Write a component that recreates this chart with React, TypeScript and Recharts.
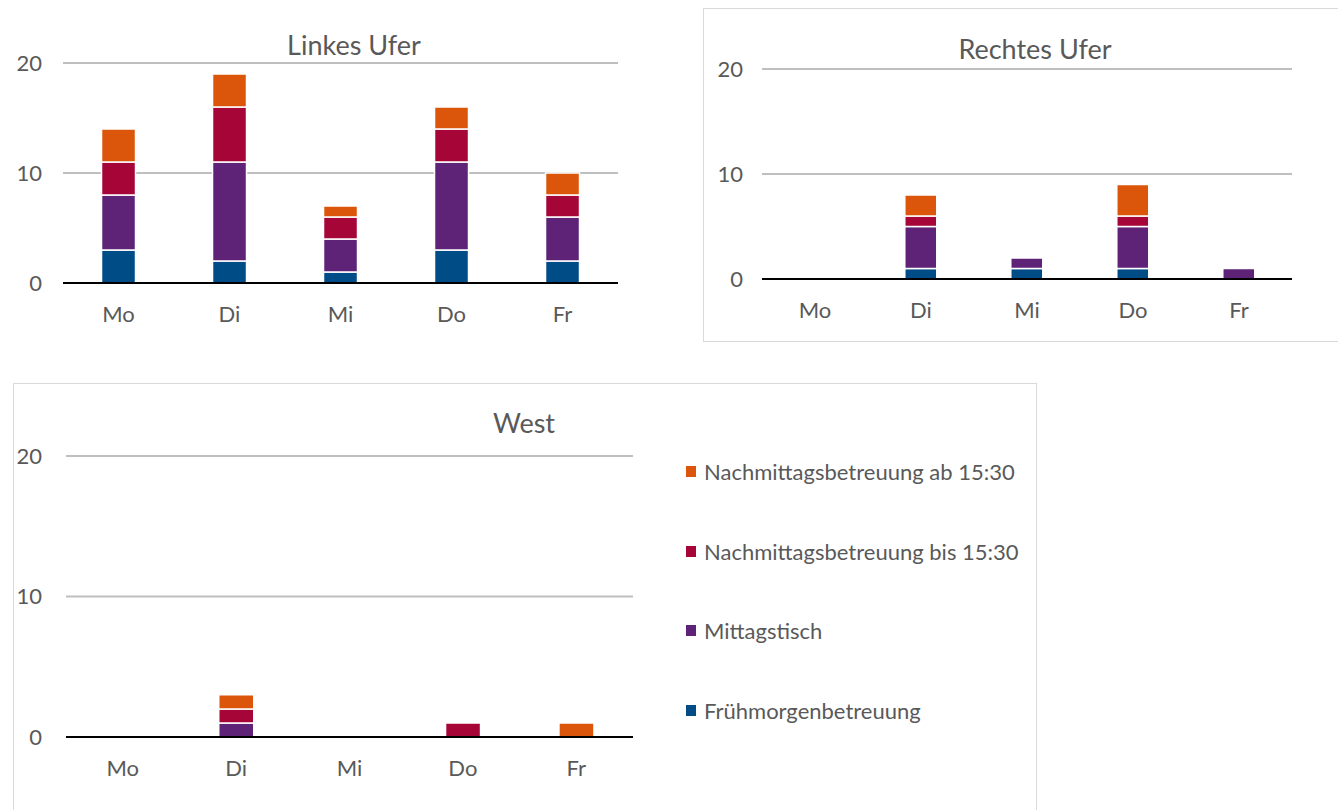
import { Bar, BarChart, CartesianGrid, Legend, XAxis, YAxis } from 'recharts'

const days = ['Mo', 'Di', 'Mi', 'Do', 'Fr']
const yTicks = [0, 10, 20]

const seriesKeys = ['frueh', 'mittag', 'bis', 'ab']
const seriesNames = ['Frühmorgenbetreuung', 'Mittagstisch', 'Nachmittagsbetreuung bis 15:30', 'Nachmittagsbetreuung ab 15:30']
const seriesColors = ['#004C87', '#5E2277', '#A50537', '#DB560B']

// Linkes Ufer
const linksFrueh = [3, 2, 1, 3, 2]
const linksMittag = [5, 9, 3, 8, 4]
const linksBis = [3, 5, 2, 3, 2]
const linksAb = [3, 3, 1, 2, 2]

// Rechtes Ufer
const rechtsFrueh = [0, 1, 1, 1, 0]
const rechtsMittag = [0, 4, 1, 4, 1]
const rechtsBis = [0, 1, 0, 1, 0]
const rechtsAb = [0, 2, 0, 3, 0]

// West
const westFrueh = [0, 0, 0, 0, 0]
const westMittag = [0, 1, 0, 0, 0]
const westBis = [0, 1, 0, 1, 0]
const westAb = [0, 1, 0, 0, 1]

const FONT = 'Lato, "DejaVu Sans", sans-serif'
const TEXT = '#595959'

function buildRows(frueh: number[], mittag: number[], bis: number[], ab: number[]) {
  return days.map((day, i) => ({ day, frueh: frueh[i], mittag: mittag[i], bis: bis[i], ab: ab[i] }))
}

const linksData = buildRows(linksFrueh, linksMittag, linksBis, linksAb)
const rechtsData = buildRows(rechtsFrueh, rechtsMittag, rechtsBis, rechtsAb)
const westData = buildRows(westFrueh, westMittag, westBis, westAb)

// legend lists the top segment first, like Excel does for stacked columns
function renderLegend(props: any) {
  const items = [...(props.payload || [])].sort(
    (a: any, b: any) => seriesNames.indexOf(b.value) - seriesNames.indexOf(a.value),
  )
  return (
    <div style={{ fontFamily: FONT, fontSize: 22, color: TEXT }}>
      {items.map((item: any) => (
        <div key={item.value} style={{ height: 79.5, display: 'flex', alignItems: 'center', whiteSpace: 'nowrap' }}>
          <span style={{ display: 'inline-block', width: 10, height: 11, background: item.color, marginRight: 8 }} />
          {item.value}
        </div>
      ))}
    </div>
  )
}

interface PanelProps {
  x: number
  y: number
  width: number
  height: number
  margin: { top: number; right: number; bottom: number; left: number }
  yAxisWidth: number
  yTickMargin: number
  data: ReturnType<typeof buildRows>
  showLegend?: boolean
}

function Panel({ x, y, width, height, margin, yAxisWidth, yTickMargin, data, showLegend }: PanelProps) {
  const tick = { fill: TEXT, fontSize: 22, fontFamily: FONT }
  return (
    <div style={{ position: 'absolute', left: x, top: y }}>
      <BarChart width={width} height={height} data={data} margin={margin} barCategoryGap="34.7%">
        <CartesianGrid vertical={false} stroke="#bfbfbf" strokeWidth={2} />
        <YAxis
          domain={[0, 20]}
          ticks={yTicks}
          width={yAxisWidth}
          axisLine={false}
          tickLine={false}
          tickSize={0}
          tickMargin={yTickMargin}
          tick={tick}
        />
        <XAxis
          dataKey="day"
          height={40}
          axisLine={{ stroke: '#000', strokeWidth: 2 }}
          tickLine={false}
          tickSize={0}
          tickMargin={23}
          tick={tick}
        />
        {seriesKeys.map((key, i) => (
          <Bar
            key={key}
            dataKey={key}
            name={seriesNames[i]}
            stackId="a"
            fill={seriesColors[i]}
            stroke="#fff"
            strokeWidth={1.5}
            isAnimationActive={false}
          />
        ))}
        {showLegend && (
          <Legend
            layout="vertical"
            align="center"
            verticalAlign="middle"
            wrapperStyle={{ left: 673, top: 49, width: 340 }}
            content={renderLegend}
          />
        )}
      </BarChart>
    </div>
  )
}

function Title({ text, x, y }: { text: string; x: number; y: number }) {
  return (
    <div
      style={{
        position: 'absolute',
        left: x,
        top: y,
        transform: 'translate(-50%, -50%)',
        fontFamily: FONT,
        fontSize: 27,
        color: TEXT,
        whiteSpace: 'nowrap',
      }}
    >
      {text}
    </div>
  )
}

export default function App() {
  return (
    <div style={{ position: 'absolute', left: 0, top: 0, width: 1338, height: 810, overflow: 'hidden', background: '#fff' }}>
      <div style={{ position: 'absolute', left: 703, top: 8, width: 700, height: 334, border: '1.5px solid #d9d9d9', boxSizing: 'border-box' }} />
      <div style={{ position: 'absolute', left: 13, top: 383, width: 1024, height: 500, border: '1.5px solid #d9d9d9', boxSizing: 'border-box' }} />

      <Panel
        x={0}
        y={0}
        width={700}
        height={345}
        margin={{ top: 63, right: 82, bottom: 22, left: 0 }}
        yAxisWidth={63}
        yTickMargin={21}
        data={linksData}
      />
      <Title text="Linkes Ufer" x={354} y={44} />

      <Panel
        x={703}
        y={0}
        width={640}
        height={345}
        margin={{ top: 69, right: 51, bottom: 26, left: 0 }}
        yAxisWidth={59}
        yTickMargin={19}
        data={rechtsData}
      />
      <Title text="Rechtes Ufer" x={1035} y={48} />

      <Panel
        x={13}
        y={383}
        width={1020}
        height={420}
        margin={{ top: 73, right: 400, bottom: 26, left: 0 }}
        yAxisWidth={53}
        yTickMargin={24}
        data={westData}
        showLegend
      />
      <Title text="West" x={524} y={422} />
    </div>
  )
}
